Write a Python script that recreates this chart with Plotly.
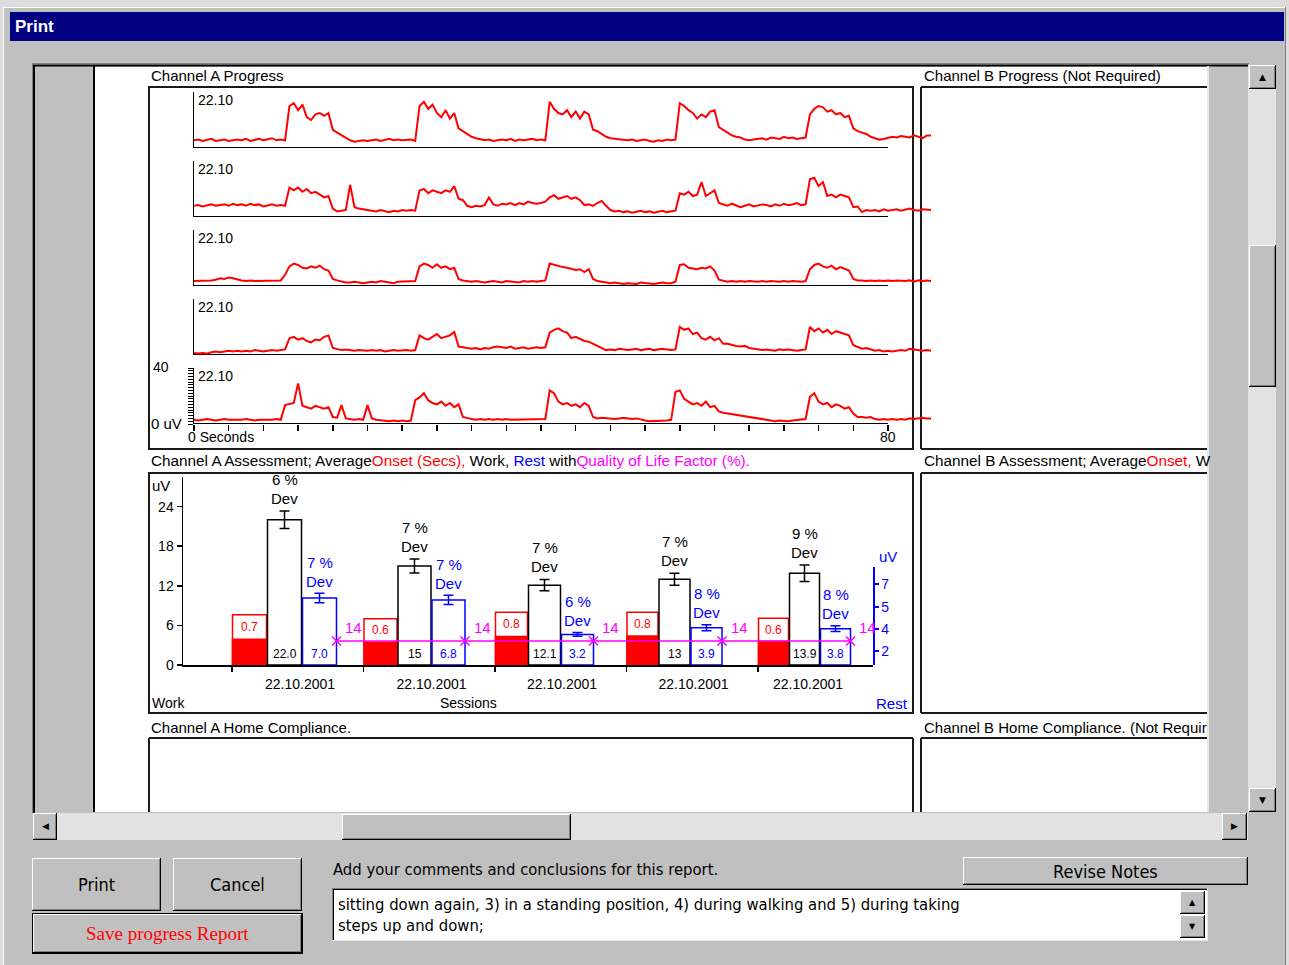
import numpy as np
import plotly.graph_objects as go

W, H = 1289, 965
FONT = "Liberation Sans, Arial, sans-serif"
NARROW = "Liberation Sans Narrow, Arial Narrow, DejaVu Sans Condensed, Liberation Sans, sans-serif"
SERIF = "Liberation Serif, Times New Roman, serif"
RED, BLUE, MAGENTA = "#ff0000", "#0000ff", "#ff00ff"
FACE, TRACK, SHADOW, FRAME = "#c0c0c0", "#e2e2e2", "#808080", "#1a1a1a"

# ---------------- data: Channel A progress traces (uV, one sample every 0.5 s) ----------------
SAMPLE_STEP_S = 0.5
TRACE_DATE = "22.10"
TRACE_1 = [
    5.5, 6, 5, 5.5, 6.5, 5, 5.5, 6, 5, 5.5,
    6, 5.5, 6.5, 5, 6, 6.5, 5.5, 6, 7, 5.5,
    6, 5.5, 30, 32, 27, 31, 22, 20, 24, 25,
    23, 25, 13, 11, 9, 7, 5.5, 4.5, 5, 5.5,
    5, 5.5, 6, 5, 6, 6.5, 5.5, 6, 5.5, 6,
    6, 5, 30, 33, 28, 31, 25, 22, 27, 21,
    25, 14, 12, 10, 8, 7, 6, 5.5, 6, 5,
    5.5, 6, 5.5, 6.5, 5, 6, 5.5, 6, 6.5, 5.5,
    6, 5.5, 33, 28, 25, 24, 27, 22, 26, 21,
    26, 24, 13, 12, 10, 8, 7, 6.5, 6, 5.5,
    5.5, 6, 5, 5.5, 6, 5, 4.5, 5.5, 5, 6,
    5.5, 6, 32, 30, 27, 25, 21, 24, 22, 26,
    27, 15, 13, 11, 9, 8, 7.5, 6, 5.5, 6,
    6.5, 7, 6, 7.5, 7, 6.5, 8, 7, 7.5, 6.5,
    7, 7.5, 24, 28, 30, 29, 26, 27, 24, 25,
    22, 23, 14, 12, 11, 10, 8, 7, 6, 6.5,
    7, 8, 7.5, 8.5, 8, 7.5, 9, 8, 7, 9,
    9]
TRACE_2 = [
    8, 8.5, 7.5, 8, 9, 8, 8.5, 9, 8, 9.5,
    8.5, 9, 8, 9.5, 8.5, 9, 7.5, 8.5, 9, 8,
    8.5, 8, 21, 19, 21, 18, 20, 17, 18, 16,
    14, 15, 6, 4, 4.5, 5, 23, 7, 6, 5.5,
    5, 4.5, 4, 5, 4, 3.5, 4.5, 4, 5, 4.5,
    5, 4.5, 19, 20, 17, 19, 18, 17, 19, 18,
    22, 13, 12, 8, 7, 8, 7.5, 8.5, 14, 9,
    8, 9.5, 9, 10, 8.5, 10, 9, 11, 10, 9.5,
    10, 11, 14, 15.5, 13, 14, 15, 13, 14, 12,
    8.5, 9, 8, 10, 11.5, 8, 5, 4, 4.5, 3.5,
    4, 3, 3.5, 4.5, 3.5, 4, 3, 4, 4.5, 3.5,
    4, 4.5, 17, 16, 18, 15, 16, 25, 15, 17,
    19, 10, 9, 8, 9.5, 8, 7, 8, 9, 7.5,
    8, 9, 8.5, 7.5, 9, 8, 9.5, 8.5, 9, 10,
    8.5, 9, 27, 28, 22, 25, 15, 16, 14, 16,
    15, 14, 7, 7.5, 3.5, 5, 4.5, 5, 4, 5.5,
    4.5, 5, 5.5, 4.5, 5, 6, 5, 4.5, 5.5, 5,
    5]
TRACE_3 = [
    3.5, 3.5, 4, 3.5, 4, 4.5, 5.5, 5, 6, 5.5,
    4.5, 4, 3.5, 4, 3.5, 3.5, 4, 3.5, 4, 3.5,
    4, 8, 14, 16, 15, 13, 12.5, 14, 13, 14.5,
    12, 11, 5, 4, 3, 2.5, 2.5, 3, 2.5, 2,
    2.5, 3, 2.5, 3.5, 3, 2.5, 2, 3, 3, 3.5,
    3, 3.5, 14, 16, 15, 13, 15.5, 13, 14, 12,
    13, 5, 4, 3.5, 3, 3.5, 3, 2.5, 3, 3.5,
    3, 2.5, 3.5, 3, 3, 2.5, 3.5, 3, 3.5, 3,
    3.5, 4, 16, 15, 14, 13.5, 13, 12, 11.5, 12,
    10, 12, 5, 3.5, 3, 2.5, 2, 2.5, 2, 1.5,
    2, 2, 1.5, 2.5, 2, 2, 1.5, 2, 2.5, 2,
    2, 3, 15, 15.5, 13, 12.5, 12, 13, 12.5, 14,
    11, 4.5, 3.5, 3, 3.5, 3, 3.5, 3, 3.5, 3,
    3, 3.5, 3, 3.5, 3, 3, 3.5, 3, 3.5, 3,
    3, 3.5, 12, 15, 16, 14, 13, 14.5, 12, 13.5,
    12.5, 11, 5, 4, 4, 3.5, 4, 3.5, 4, 3.5,
    4, 3.5, 4, 3.5, 3.5, 4, 3, 4, 3.5, 4,
    3.5]
TRACE_4 = [
    1.5, 1, 1.5, 1, 2, 2.5, 2, 2.5, 3, 2.5,
    3, 2.5, 3, 2.5, 3.5, 3, 2.5, 3, 3.5, 3,
    3.5, 4, 12, 13, 11, 12, 10, 9, 11, 10.5,
    13, 14, 5, 4.5, 3.5, 4, 3.5, 3, 3.5, 3,
    3, 3.5, 3, 3.5, 2.5, 3, 3.5, 3, 3.5, 3.5,
    3, 3.5, 14, 12, 11, 13, 15, 12, 13, 14,
    16.5, 6, 5.5, 5, 4.5, 5, 4, 5, 4.5, 5.5,
    6, 5.5, 5, 6, 4.5, 5, 5.5, 4.5, 5, 5.5,
    5, 5.5, 16, 18, 19, 17, 16, 12, 13, 11.5,
    10, 9.5, 8, 6, 5, 3.5, 4, 3.5, 4.5, 4,
    3.5, 4, 4.5, 3.5, 4, 4.5, 3.5, 4, 4.5, 4,
    3.5, 4, 20, 18, 19, 15, 16, 12, 11, 13,
    10.5, 12, 8, 8, 7, 6.5, 6, 6.5, 5, 4.5,
    4, 3.5, 4, 3.5, 3, 4, 3.5, 4, 3.5, 3,
    3.5, 4, 20, 17, 19, 16, 18, 15, 17, 16,
    15, 14, 7, 6, 4.5, 5, 4, 3, 3.5, 2.5,
    3, 2.5, 3, 3.5, 3, 4.5, 4, 3.5, 3, 3.5,
    3]
TRACE_5 = [
    3, 2.5, 3, 3.5, 3, 2.5, 3, 3.5, 3, 3,
    2.5, 3, 3.5, 3, 2.5, 3, 3, 2.5, 3, 3.5,
    3, 13.5, 14, 15, 29, 13, 12, 11, 13, 12,
    11, 12, 5, 4.5, 13.5, 4, 3.5, 3, 3.5, 3,
    13.5, 4, 3, 2.5, 2.5, 2, 2.5, 2, 2.5, 2,
    2.5, 17, 19, 22, 17, 15, 14, 16, 13, 15,
    12, 14, 5, 4, 3.5, 3, 3.5, 3, 3.5, 3,
    3.5, 3, 3.5, 3, 3, 3.5, 3, 3.5, 3, 3.5,
    3, 3.5, 24, 22, 16, 14, 15, 13, 14, 12,
    15, 13, 5, 4, 4.5, 4, 4, 3.5, 4, 4.5,
    4, 3.5, 4, 3, 2.5, 2, 2, 2.5, 2, 2.5,
    3, 23, 24, 18, 16, 14, 15, 13, 16, 12,
    13, 9, 8, 7.5, 7, 6.5, 6, 5, 5, 4.5,
    4, 3, 2.5, 2, 2, 2.5, 2, 2, 2.5, 3,
    3, 3.5, 19.5, 22, 16, 14, 15, 12, 14, 13,
    11, 12, 7.5, 5, 5, 4.5, 5, 3.5, 3, 3.5,
    3, 3.5, 3, 3.5, 3, 4, 3.5, 4, 4.5, 4,
    4]
TRACES = [TRACE_1, TRACE_2, TRACE_3, TRACE_4, TRACE_5]

# ---------------- data: Channel A assessment ----------------
SESSION_DATES = ["22.10.2001"] * 5
ONSET_SECS = ["0.7", "0.6", "0.8", "0.8", "0.6"]
ONSET_BOX = [7.6, 7.0, 8.0, 8.0, 7.1]
ONSET_FILL = [3.9, 3.5, 4.3, 4.4, 3.6]
WORK_UV = [22.0, 15, 12.1, 13, 13.9]
WORK_TEXT = ["22.0", "15", "12.1", "13", "13.9"]
WORK_DEV_PCT = [6, 7, 7, 7, 9]
REST_UV = [7.0, 6.8, 3.2, 3.9, 3.8]
REST_TEXT = ["7.0", "6.8", "3.2", "3.9", "3.8"]
REST_DEV_PCT = [7, 7, 6, 8, 8]
QOL_PCT = [14, 14, 14, 14, 14]
LEFT_TICKS = [0, 6, 12, 18, 24]
RIGHT_TICK_VALS = [1.46, 3.76, 6.06, 8.46]
RIGHT_TICK_TEXT = ["2", "4", "5", "7"]
COMMENT_LINES = ["sitting down again, 3) in a standing position, 4) during walking and 5) during taking",
                 "steps up and down;"]

# ---------------- layout constants (pixels) ----------------
BAR_W_PX = [34, 33, 32, 31, 30]            # bar widths per session as drawn
DATE_LABEL_PX = [68, 68, 67, 67, 50]       # date label centre from session start

# ---------------- helpers (pixel layout) ----------------
shapes, annotations = [], []


def fx(x):
    return x / W


def fy(y):
    return 1 - y / H


def rect(x0, y0, x1, y1, fill, line=None, lw=0):
    shapes.append(dict(type="rect", xref="paper", yref="paper", x0=fx(x0), x1=fx(x1), y0=fy(y1), y1=fy(y0),
                       fillcolor=fill, line=dict(color=line or "rgba(0,0,0,0)", width=lw), layer="below"))


def seg(x0, y0, x1, y1, color, lw=1):
    shapes.append(dict(type="line", xref="paper", yref="paper", x0=fx(x0), x1=fx(x1), y0=fy(y0), y1=fy(y1),
                       line=dict(color=color, width=lw), layer="below"))


def raised(x0, y0, x1, y1):
    rect(x0, y0, x1, y1, FACE)
    seg(x0, y0 + 0.5, x1, y0 + 0.5, "white")
    seg(x0 + 0.5, y0, x0 + 0.5, y1, "white")
    seg(x0 + 1, y1 - 1.5, x1 - 1, y1 - 1.5, SHADOW)
    seg(x1 - 1.5, y0 + 1, x1 - 1.5, y1 - 1, SHADOW)
    seg(x0, y1 - 0.5, x1, y1 - 0.5, "black")
    seg(x1 - 0.5, y0, x1 - 0.5, y1, "black")


def txt(x, y, text, size=14, color="black", xanchor="left", family=FONT):
    annotations.append(dict(xref="paper", yref="paper", x=fx(x), y=fy(y), text=text, showarrow=False,
                            xanchor=xanchor, yanchor="middle", borderpad=0,
                            font=dict(family=family, size=size, color=color)))


# ---------------- window chrome ----------------
rect(0, 0, W, 7, "#dcdcdc")
rect(0, 0, 3, H, "#dcdcdc")
rect(W - 3, 0, W, H, "#dcdcdc")
seg(3, 7.5, W - 3, 7.5, "white")
seg(3.5, 7, 3.5, H, "white")
seg(W - 3.5, 7, W - 3.5, H, SHADOW)
rect(10, 12, 1284, 41, "#000080")
txt(14, 26, "<b>Print</b>", 17, "white")

# scroll view
seg(32, 63.5, 1249, 63.5, SHADOW)
seg(32.5, 63, 32.5, 813, SHADOW)
seg(33, 65.5, 1248, 65.5, "black", 2)
seg(34, 65, 34, 813, "black", 2)
seg(94, 66, 94, 812, "black", 2)
rect(95, 67, 1207, 812, "white")
seg(1208, 66, 1208, 812, "#e8e8e8", 2)

# vertical scrollbar
rect(1248, 65, 1276, 812, TRACK)
raised(1249, 65, 1276, 89)
raised(1249, 245, 1276, 387)
raised(1249, 788, 1276, 812)
txt(1262.5, 77, "▲", 9, "black", "center", "DejaVu Sans")
txt(1262.5, 800, "▼", 9, "black", "center", "DejaVu Sans")

# horizontal scrollbar
rect(33, 813, 1248, 840, TRACK)
raised(33, 813, 57, 840)
raised(342, 814, 571, 840)
raised(1222, 813, 1247, 840)
txt(45, 826, "◀", 9, "black", "center", "DejaVu Sans")
txt(1234, 826, "▶", 9, "black", "center", "DejaVu Sans")

# frames inside the report
rect(149, 87, 913, 449, "rgba(0,0,0,0)", FRAME, 2)
seg(921, 87, 1207, 87, FRAME, 2)
seg(921, 87, 921, 449, FRAME, 2)
seg(921, 449, 1207, 449, FRAME, 2)
rect(149, 473, 913, 713, "rgba(0,0,0,0)", FRAME, 2)
seg(921, 473, 1207, 473, FRAME, 2)
seg(921, 473, 921, 713, FRAME, 2)
seg(921, 713, 1207, 713, FRAME, 2)
seg(149, 738, 913, 738, FRAME, 2)
seg(149, 738, 149, 812, FRAME, 2)
seg(913, 738, 913, 812, FRAME, 2)
seg(921, 738, 1207, 738, FRAME, 2)
seg(921, 738, 921, 812, FRAME, 2)

txt(150, 76, "Channel A Progress", 15)
txt(923, 76, "Channel B Progress (Not Required)", 15)
txt(150, 461, "Channel A Assessment; Average<span style='color:#ff0000'>Onset (Secs),</span> Work, "
              "<span style='color:#0000ff'>Rest</span> with<span style='color:#ff00ff'>Quality of Life Factor (%).</span>",
    15.3)
txt(923, 461, "Channel B Assessment; Average<span style='color:#ff0000'>Onset,</span> W", 15.3)
txt(150, 727, "Channel A Home Compliance.", 15)
txt(923, 727, "Channel B Home Compliance. (Not Requir", 15)

# bottom controls
raised(32, 858, 161, 911)
raised(173, 858, 302, 911)
rect(32, 913, 303, 954, "black")
raised(33, 914, 302, 953)
raised(963, 857, 1248, 885)
txt(96, 884, "Print", 18, "black", "center", NARROW)
txt(237, 884, "Cancel", 18, "black", "center", NARROW)
txt(167, 933, "Save progress Report", 19, RED, "center", SERIF)
txt(1105, 871, "Revise Notes", 18, "black", "center", NARROW)
txt(332, 869, "Add your comments and conclusions for this report.", 16.5, "black", "left", NARROW)

rect(332, 888, 1208, 941, "white")
seg(332, 888.5, 1208, 888.5, SHADOW)
seg(332.5, 888, 332.5, 941, SHADOW)
seg(333, 889.5, 1207, 889.5, "black")
seg(333.5, 889, 333.5, 940, "black")
seg(332, 940.5, 1208, 940.5, "#e8e8e8")
seg(1207.5, 888, 1207.5, 941, "#e8e8e8")
raised(1180, 891, 1205, 914)
raised(1180, 915, 1205, 938)
txt(1192.5, 902.5, "▲", 8, "black", "center", "DejaVu Sans")
txt(1192.5, 926.5, "▼", 8, "black", "center", "DejaVu Sans")
for k, line in enumerate(COMMENT_LINES):
    txt(337, 904 + 21 * k, line, 16.5, "black", "left", NARROW)

# ---------------- figure ----------------
fig = go.Figure()

# progress traces: shared time axis, one y axis per trace
X0_PX, X80_PX, XEND_PX = 194, 888, 931
px_per_s = (X80_PX - X0_PX) / 80
BASELINES_PX = [148, 217, 286, 355, 424]
TRACE_H_PX = 56
y_names = ["y", "y2", "y3", "y4", "y5"]
layout_axes = {}
layout_axes["xaxis"] = dict(domain=[fx(X0_PX), fx(XEND_PX)], range=[0, (XEND_PX - X0_PX) / px_per_s],
                            anchor="y5", showgrid=False, zeroline=False, showline=False, automargin=False,
                            ticks="outside", tickmode="array", tickvals=list(range(0, 81, 4)),
                            ticklen=6, tickwidth=1.5, tickcolor="black", showticklabels=False)
for k, (vals, base) in enumerate(zip(TRACES, BASELINES_PX)):
    t = np.arange(len(vals)) * SAMPLE_STEP_S
    fig.add_trace(go.Scatter(x=t, y=vals, mode="lines", line=dict(color=RED, width=2),
                             xaxis="x", yaxis=y_names[k], hoverinfo="skip", showlegend=False))
    key = "yaxis" if k == 0 else f"yaxis{k + 1}"
    ax = dict(domain=[fy(base), fy(base - TRACE_H_PX)], range=[0, 40], anchor="x", automargin=False,
              showgrid=False, zeroline=False, showline=True, linecolor="black", linewidth=1.5,
              showticklabels=False, ticks="")
    if k == len(TRACES) - 1:
        ax.update(ticks="outside", tickmode="linear", tick0=0, dtick=2, ticklen=5, tickwidth=1,
                  tickcolor="black")
    layout_axes[key] = ax
    shapes.append(dict(type="line", xref="x", yref=y_names[k], x0=0, x1=80, y0=0, y1=0,
                       line=dict(color="black", width=2), layer="below"))
    txt(197, base - TRACE_H_PX + 8, TRACE_DATE, 14)

txt(170, 367, "40", 14, "black", "right")
txt(150, 423, "0 uV", 15)
txt(187, 437, "0 Seconds", 14)
txt(888, 437, "80", 14, "black", "center")

# assessment bar chart
SESSION0_PX, SESSION_PX = 232, 131.5
BAR_X0_PX, BAR_X1_PX, BASE_PX = 183, 873, 665
LEFT_TOP_PX, RIGHT_TOP_PX = 477, 567
LEFT_PX_PER_UV, RIGHT_PX_PER_UV = 6.6, 9.57
QOL_PX_PER_PCT = 24.0 / QOL_PCT[0]
left_top = (BASE_PX - LEFT_TOP_PX) / LEFT_PX_PER_UV
right_top = (BASE_PX - RIGHT_TOP_PX) / RIGHT_PX_PER_UV
qol_top = (BASE_PX - RIGHT_TOP_PX) / QOL_PX_PER_PCT

sess = np.arange(len(SESSION_DATES))
bw = np.array(BAR_W_PX) / SESSION_PX
off_onset = 0.5 / SESSION_PX + 0 * bw
off_work = (np.array(BAR_W_PX) + 1.5) / SESSION_PX
off_rest = (2 * np.array(BAR_W_PX) + 2.5) / SESSION_PX
work_err = [v * p / 100 for v, p in zip(WORK_UV, WORK_DEV_PCT)]
rest_err = [v * p / 100 for v, p in zip(REST_UV, REST_DEV_PCT)]

fig.add_trace(go.Bar(x=sess, y=ONSET_BOX, width=bw, offset=off_onset, xaxis="x2", yaxis="y6",
                     marker=dict(color="white", line=dict(color=RED, width=1.5)), showlegend=False))
fig.add_trace(go.Bar(x=sess, y=ONSET_FILL, width=bw, offset=off_onset, xaxis="x2", yaxis="y6",
                     marker=dict(color=RED, line=dict(color=RED, width=1.5)), showlegend=False))
fig.add_trace(go.Bar(x=sess, y=WORK_UV, width=bw, offset=off_work, xaxis="x2", yaxis="y6",
                     marker=dict(color="white", line=dict(color="black", width=1.5)),
                     error_y=dict(type="data", array=work_err, color="black", thickness=1.5, width=5),
                     showlegend=False))
fig.add_trace(go.Bar(x=sess, y=REST_UV, width=bw, offset=off_rest, xaxis="x2", yaxis="y7",
                     marker=dict(color="white", line=dict(color=BLUE, width=1.5)),
                     error_y=dict(type="data", array=rest_err, color=BLUE, thickness=1.5, width=5),
                     showlegend=False))
qol_x = sess + off_rest + bw
fig.add_trace(go.Scatter(x=qol_x, y=QOL_PCT, mode="lines+markers", xaxis="x2", yaxis="y8",
                         line=dict(color=MAGENTA, width=1.5), cliponaxis=False,
                         marker=dict(symbol="x-thin-open", size=9, color=MAGENTA,
                                     line=dict(color=MAGENTA, width=1.5)),
                         showlegend=False))


def dat(x, y, text, yref, color, size, **kw):
    a = dict(xref="x2", yref=yref, x=x, y=y, text=text, showarrow=False, borderpad=0,
             font=dict(family=FONT, size=size, color=color), yanchor="middle")
    a.update(kw)
    annotations.append(a)


for i in range(len(sess)):
    xc_on = i + off_onset[i] + bw[i] / 2
    xc_wk = i + off_work[i] + bw[i] / 2
    xc_rs = i + off_rest[i] + bw[i] / 2
    dat(xc_on, (ONSET_FILL[i] + ONSET_BOX[i]) / 2, ONSET_SECS[i], "y6", RED, 12)
    dat(xc_wk, 0, WORK_TEXT[i], "y6", "black", 12, yanchor="bottom", yshift=3)
    dat(xc_rs, 0, REST_TEXT[i], "y7", BLUE, 12, yanchor="bottom", yshift=3)
    dat(xc_wk, WORK_UV[i] + work_err[i], "Dev", "y6", "black", 15, yshift=13)
    dat(xc_wk, WORK_UV[i] + work_err[i], f"{WORK_DEV_PCT[i]} %", "y6", "black", 15, yshift=32)
    dat(xc_rs, REST_UV[i] + rest_err[i], "Dev", "y7", BLUE, 15, yshift=12)
    dat(xc_rs, REST_UV[i] + rest_err[i], f"{REST_DEV_PCT[i]} %", "y7", BLUE, 15, yshift=31)
    dat(qol_x[i], QOL_PCT[i], str(QOL_PCT[i]), "y8", MAGENTA, 15, xshift=17, yshift=14)

layout_axes["xaxis2"] = dict(domain=[fx(BAR_X0_PX), fx(BAR_X1_PX)],
                             range=[(BAR_X0_PX - SESSION0_PX) / SESSION_PX, (BAR_X1_PX - SESSION0_PX) / SESSION_PX],
                             anchor="y6", showgrid=False, zeroline=False, showline=True, linecolor="black",
                             linewidth=1.5, ticks="", tickmode="array", automargin=False,
                             tickvals=list(sess + np.array(DATE_LABEL_PX) / SESSION_PX),
                             ticktext=SESSION_DATES, tickfont=dict(family=FONT, size=14, color="black"),
                             ticklabelstandoff=6,
                             minor=dict(tickmode="array", tickvals=list(sess), ticks="outside", ticklen=5,
                                        tickwidth=1.5, tickcolor="black", showgrid=False))
layout_axes["yaxis6"] = dict(domain=[fy(BASE_PX), fy(LEFT_TOP_PX)], range=[0, left_top], anchor="x2",
                             showgrid=False, zeroline=False, showline=True, linecolor="black", linewidth=1.5,
                             ticks="outside", ticklen=5, tickwidth=1.5, tickcolor="black", tickmode="array",
                             tickvals=LEFT_TICKS, tickfont=dict(family=FONT, size=14, color="black"),
                             automargin=False)
layout_axes["yaxis7"] = dict(domain=[fy(BASE_PX), fy(RIGHT_TOP_PX)],
                             range=[0, right_top], anchor="x2", side="right",
                             showgrid=False, zeroline=False, showline=True, linecolor=BLUE, linewidth=1.5,
                             ticks="outside", ticklen=4, tickwidth=1.5, tickcolor=BLUE, tickmode="array",
                             tickvals=RIGHT_TICK_VALS, ticktext=RIGHT_TICK_TEXT, automargin=False,
                             tickfont=dict(family=FONT, size=14, color=BLUE))
layout_axes["yaxis8"] = dict(overlaying="y7", range=[0, qol_top], visible=False, anchor="x2", automargin=False)

txt(151, 486, "uV", 15)
txt(888, 556, "uV", 15, BLUE, "center")
txt(151, 703, "Work", 14)
txt(468, 703, "Sessions", 14, "black", "center")
txt(909, 703, "Rest", 15, BLUE, "right")

fig.update_layout(width=W, height=H, margin=dict(l=0, r=0, t=0, b=0, pad=0, autoexpand=False), autosize=False,
                  paper_bgcolor=FACE, plot_bgcolor="rgba(0,0,0,0)", barmode="overlay",
                  shapes=shapes, annotations=annotations, showlegend=False, **layout_axes)

POST = ("var s='margin:0;padding:0;overflow:hidden;background:#c0c0c0;height:965px;width:1289px;';"
        "document.documentElement.style.cssText=s;document.body.style.cssText=s;")
fig.write_html("out.html", config={"displayModeBar": False, "staticPlot": True},
               default_width="1289px", default_height="965px", post_script=POST)
